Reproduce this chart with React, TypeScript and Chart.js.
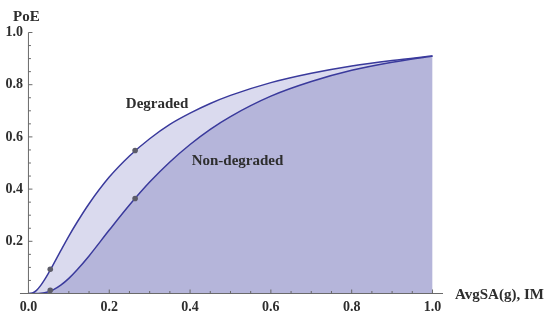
import React, { useEffect, useRef } from "react";
import { Chart, registerables } from "chart.js";

Chart.register(...registerables);

// ---- data ----
const imValues = [0, 0.01, 0.02, 0.03, 0.04, 0.05, 0.06, 0.08, 0.1, 0.12, 0.15, 0.2, 0.25, 0.3, 0.35, 0.4, 0.45, 0.5, 0.6, 0.7, 0.8, 0.9, 1.0];
const degradedPoE = [0, 0.002, 0.012, 0.03, 0.053, 0.079, 0.107, 0.164, 0.22, 0.272, 0.344, 0.446, 0.527, 0.593, 0.648, 0.691, 0.728, 0.759, 0.808, 0.844, 0.872, 0.893, 0.91];
const nonDegradedPoE = [0, 0, 0, 0.001, 0.003, 0.007, 0.013, 0.032, 0.058, 0.09, 0.144, 0.243, 0.339, 0.427, 0.504, 0.571, 0.629, 0.678, 0.756, 0.812, 0.855, 0.886, 0.91];
const markerIM = [0.054, 0.054, 0.264, 0.264];
const markerPoE = [0.093, 0.012, 0.548, 0.364];
const xTickValues = [0, 0.2, 0.4, 0.6, 0.8, 1.0];
const yTickValues = [0, 0.2, 0.4, 0.6, 0.8, 1.0];
const curveLabels = ["Degraded", "Non-degraded"];
const curveLabelIM = [0.241, 0.404];
const curveLabelPoE = [0.712, 0.492];
const xTitle = "AvgSA(g), IM";
const yTitle = "PoE";
const xAxisLineStart = -0.021;

const SERIF = "'Liberation Serif', 'DejaVu Serif', serif";
const LINE = "#3a3a9c";
const LIGHT = "#dadaee";
const DARK = "#b5b5da";
const AXIS = "#6a6a6a";
const TEXT = "#2e2e2e";

const axesPlugin = {
  id: "axesPlugin",
  afterDatasetsDraw(chart: any) {
    const { ctx, chartArea, scales } = chart;
    const xs = scales.x;
    const ys = scales.y;
    const x0 = xs.getPixelForValue(0);
    const y0 = ys.getPixelForValue(0);
    ctx.save();
    ctx.strokeStyle = AXIS;
    ctx.lineWidth = 1;
    ctx.beginPath();
    ctx.moveTo(xs.getPixelForValue(xAxisLineStart), y0);
    ctx.lineTo(chartArea.right, y0);
    ctx.moveTo(x0, y0);
    ctx.lineTo(x0, ys.getPixelForValue(1));
    for (let i = 1; i <= 20; i++) {
      const v = i * 0.05;
      const len = i % 4 === 0 ? 4 : 2.5;
      const px = xs.getPixelForValue(v);
      ctx.moveTo(px, y0);
      ctx.lineTo(px, y0 - len);
      const py = ys.getPixelForValue(v);
      ctx.moveTo(x0, py);
      ctx.lineTo(x0 + len, py);
    }
    ctx.stroke();
    ctx.restore();
  },
  afterDraw(chart: any) {
    const { ctx, chartArea, scales } = chart;
    ctx.save();
    ctx.fillStyle = TEXT;
    ctx.font = `bold 15px ${SERIF}`;
    ctx.textAlign = "left";
    ctx.textBaseline = "alphabetic";
    curveLabels.forEach((t, i) => {
      ctx.fillText(t, scales.x.getPixelForValue(curveLabelIM[i]), scales.y.getPixelForValue(curveLabelPoE[i]));
    });
    ctx.fillText(yTitle, 13, 20.5);
    ctx.fillText(xTitle, chartArea.right + 12, scales.y.getPixelForValue(0) + 5.5);
    ctx.restore();
  },
};

export default function App() {
  const ref = useRef<HTMLCanvasElement>(null);
  useEffect(() => {
    if (!ref.current) return;
    const chart = new Chart(ref.current, {
      type: "line",
      data: {
        datasets: [
          {
            label: "markers",
            data: markerIM.map((x, i) => ({ x, y: markerPoE[i] })),
            showLine: false,
            pointRadius: 2.8,
            pointBackgroundColor: "#5c5c68",
            pointBorderWidth: 0,
            fill: false,
          } as any,
          {
            label: "Non-degraded",
            data: imValues.map((x, i) => ({ x, y: nonDegradedPoE[i] })),
            borderColor: LINE,
            borderWidth: 1.5,
            backgroundColor: DARK,
            fill: "origin",
            pointRadius: 0,
            cubicInterpolationMode: "monotone",
          },
          {
            label: "Degraded",
            data: imValues.map((x, i) => ({ x, y: degradedPoE[i] })),
            borderColor: LINE,
            borderWidth: 1.5,
            backgroundColor: LIGHT,
            fill: "origin",
            pointRadius: 0,
            cubicInterpolationMode: "monotone",
          },
        ],
      },
      options: {
        animation: false,
        responsive: false,
        events: [],
        layout: { padding: { top: 32.5, right: 107, left: 0, bottom: 0 } },
        plugins: {
          legend: { display: false },
          tooltip: { enabled: false },
          filler: { drawTime: "beforeDatasetsDraw" },
        } as any,
        scales: {
          x: {
            type: "linear",
            min: -0.011,
            max: 1.026,
            afterBuildTicks: (s: any) => {
              s.ticks = xTickValues.map((value) => ({ value }));
            },
            afterFit: (s: any) => {
              s.height = 26.5;
            },
            ticks: {
              callback: (v: any) => Number(v).toFixed(1),
              font: { family: SERIF, size: 14, weight: "bold" },
              color: TEXT,
              padding: 5,
              maxRotation: 0,
              autoSkip: false,
            },
            grid: { display: false, drawTicks: false },
            border: { display: false },
          },
          y: {
            type: "linear",
            min: 0,
            max: 1,
            afterBuildTicks: (s: any) => {
              s.ticks = yTickValues.map((value) => ({ value }));
            },
            afterFit: (s: any) => {
              s.width = 24;
            },
            ticks: {
              callback: (v: any) => (Number(v) === 0 ? "" : Number(v).toFixed(1)),
              font: { family: SERIF, size: 14, weight: "bold" },
              color: TEXT,
              padding: 1,
              autoSkip: false,
            },
            grid: { display: false, drawTicks: false },
            border: { display: false },
          },
        },
      },
      plugins: [axesPlugin],
    });
    return () => chart.destroy();
  }, []);
  return (
    <div style={{ position: "absolute", left: 0, top: 0, width: 550, height: 320, background: "#fff" }}>
      <canvas ref={ref} width={550} height={320} style={{ display: "block" }} />
    </div>
  );
}
